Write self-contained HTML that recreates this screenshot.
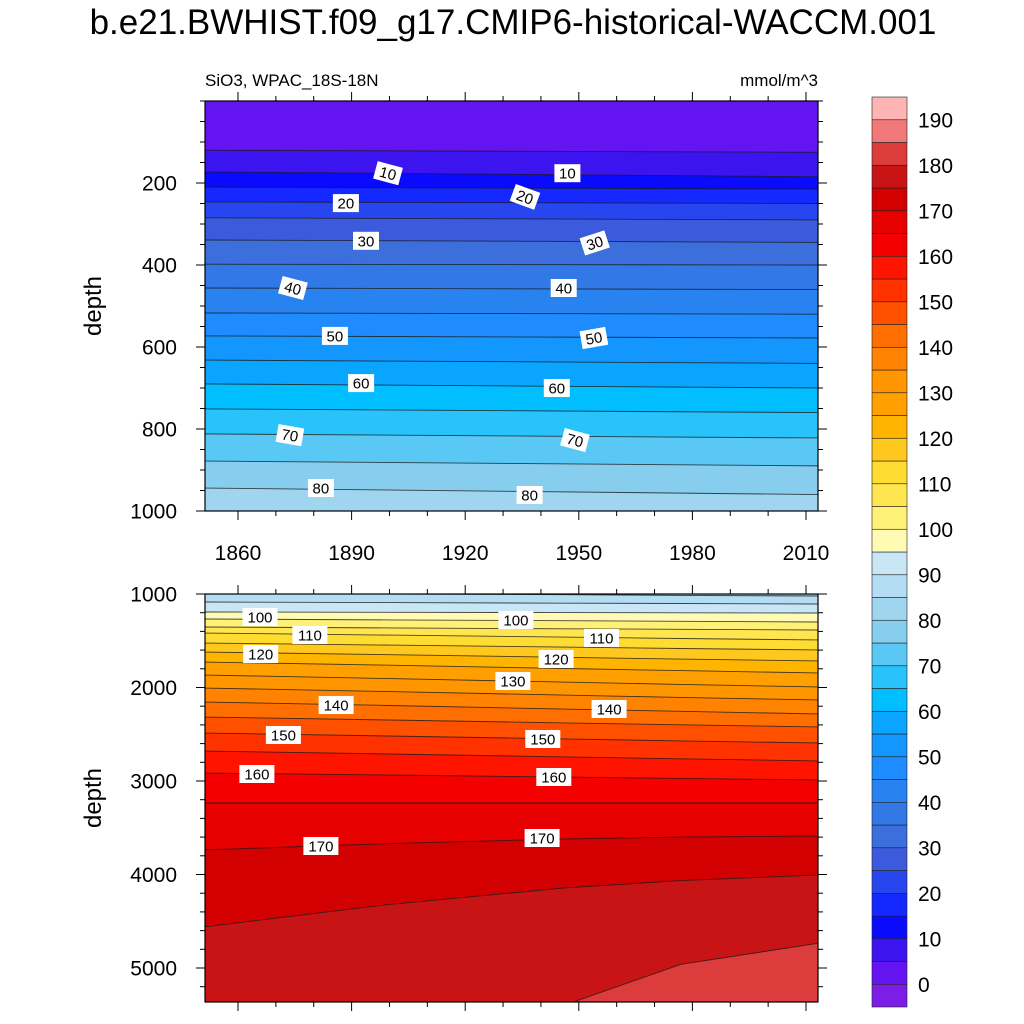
<!DOCTYPE html>
<html><head><meta charset="utf-8"><style>
html,body{margin:0;padding:0;background:#fff;width:1024px;height:1024px;overflow:hidden}
svg{display:block;font-family:"Liberation Sans",Arial,sans-serif}
</style></head><body>
<svg id="chart" width="1024" height="1024" viewBox="0 0 1024 1024">
<defs>
<clipPath id="clipTop"><rect x="205" y="101" width="613" height="410"/></clipPath>
<clipPath id="clipBot"><rect x="205" y="594" width="613" height="408"/></clipPath>
</defs>
<text x="513" y="34" font-size="35" text-anchor="middle">b.e21.BWHIST.f09_g17.CMIP6-historical-WACCM.001</text>
<text x="205" y="86" font-size="17">SiO3, WPAC_18S-18N</text>
<text x="818" y="86" font-size="17" text-anchor="end">mmol/m^3</text>
<g id="topPanel"></g>
<g id="botPanel"></g>
<g id="colorbar"></g>
</svg>
<script>
// colour table: index 0 = below 0, index k = 5(k-1)..5k
const bandColors = ["#7C1EE8","#6414F0","#3C14F0","#0A0AFF","#1428FF","#2846F0","#3C5ADC","#3C6EDC","#3278E6","#2882F0",
"#1E8CFF","#1496FF","#0AA5FF","#00BEFF","#28C3FA","#5AC8F5","#87CDEE","#A0D5F0","#B4DCF2","#C8E6F5",
"#FFFAB4","#FFF078","#FFE650","#FFDC32","#FFC81E","#FFB400","#FFA000","#FF9600","#FF8200","#FF6E00",
"#FF5000","#FF3200","#FF1400","#F50000","#E60000","#D20000","#C81414","#DC3C3C","#F07878","#FFB4B4"];
const colorbarLabels = [0,10,20,30,40,50,60,70,80,90,100,110,120,130,140,150,160,170,180,190];

// upper panel contours (depth in m at first and last year)
const topYears = [1851, 2013];
const topLevels = [5,10,15,20,25,30,35,40,45,50,55,60,65,70,75,80];
const topDepthStart = [120,173,210,246,285,339,398,456,517,573,632,690,751,812,878,944];
const topDepthEnd = [125,185,215,250,290,345,400,460,520,578,640,700,760,822,890,960];
const topLabelLevels = [10,10,20,20,30,30,40,40,50,50,60,60,70,70,80,80];
const topLabelYears = [1899.6,1947,1888.5,1935.8,1893.8,1954.2,1874.5,1946,1885.6,1954,1892.5,1944.2,1873.7,1949,1881.9,1937];
const topLabelDepths = [176,176,249,234,341,346,456,456,573,578,688,700,815,827,944,961];
const topLabelAngles = [15,0,0,20,0,-18,15,0,0,-10,0,0,10,15,0,0];

// lower panel contours
const botYears = [1851,1900,1946,1977,2013];
const botLevels = [85,90,95,100,105,110,115,120,125,130,135,140,145,150,155,160,165,170,175,180];
const botDepths = [
[990,1000,1008,1015,1021],[1086,1092,1098,1102,1107],[1193,1196,1199,1201,1203],[1267,1277,1286,1292,1299],
[1353,1363,1372,1378,1385],[1417,1440,1461,1476,1492],[1524,1547,1568,1583,1599],[1620,1649,1677,1696,1717],
[1727,1762,1797,1819,1845],[1866,1905,1942,1967,1995],[2005,2044,2081,2106,2134],[2155,2193,2231,2255,2283],
[2316,2348,2379,2399,2422],[2487,2519,2550,2571,2594],[2679,2711,2742,2763,2786],[2914,2936,2958,2972,2989],
[3235,3235,3235,3235,3235],[3738,3670,3620,3600,3588],[4561,4320,4144,4065,4005],[5900,5700,5400,4960,4733]];
const botLabelLevels = [100,100,110,110,120,120,130,140,140,150,150,160,160,170,170];
const botLabelYears = [1865.8,1933.4,1879,1956,1866,1944,1932.6,1885.9,1958,1872,1940.5,1865,1943.4,1881.9,1940.3];
const botLabelDepths = [1246,1278,1439,1471,1642,1695,1930,2187,2230,2508,2551,2925,2957,3695,3610];

const xTicksMajor = [1860,1890,1920,1950,1980,2010];
const topYTicks = [200,400,600,800,1000];
const botYTicks = [1000,2000,3000,4000,5000];

const NS="http://www.w3.org/2000/svg";
const X0=205,X1=818;
function xS(y){return 238+(y-1860)*3.7867;}
function yTop(d){return 101+d*0.41;}
function yBot(d){return 594+(d-1000)*0.0935;}
function mk(tag,attrs,parent){const e=document.createElementNS(NS,tag);for(const k in attrs)e.setAttribute(k,attrs[k]);parent.appendChild(e);return e;}
function colorFor(level){return bandColors[level/5+1];}

function drawContours(g,clip,years,levels,depthRows,yf,baseColor,topY,bottomY){
  const cg=mk("g",{"clip-path":"url(#"+clip+")"},g);
  const bg=mk("rect",{x:X0,y:topY,width:X1-X0,height:bottomY-topY,fill:baseColor},cg);
  
  
  levels.forEach((L,i)=>{
    const pts=years.map((yr,j)=>{let x=xS(yr);if(j===0)x=X0-2;if(j===years.length-1)x=X1+2;return [x,yf(depthRows[i][j])];});
    const poly=pts.map(p=>p[0].toFixed(1)+","+p[1].toFixed(1)).join(" ")+" "+(X1+2)+","+bottomY+" "+(X0-2)+","+bottomY;
    const f=mk("polygon",{points:poly,fill:colorFor(L)},cg);
    
    
  });
  levels.forEach((L,i)=>{
    const pts=years.map((yr,j)=>{let x=xS(yr);if(j===0)x=X0-2;if(j===years.length-1)x=X1+2;return x.toFixed(1)+","+yf(depthRows[i][j]).toFixed(1);}).join(" ");
    const l=mk("polyline",{points:pts,fill:"none",stroke:"#1a1a1a","stroke-width":0.9,"stroke-opacity":0.8},cg);
    
    
  });
}
function drawLabels(g,levels,years,depths,angles,yf){
  levels.forEach((L,i)=>{
    const x=xS(years[i]),y=yf(depths[i]);
    const a=angles?angles[i]:0;
    const lg=mk("g",{transform:"translate("+x.toFixed(1)+","+y.toFixed(1)+") rotate("+a+")"},g);
    
    
    const w=String(L).length*9+8;
    mk("rect",{x:-w/2,y:-9,width:w,height:18,fill:"#fff"},lg);
    const t=mk("text",{x:0,y:5.5,"font-size":15,"text-anchor":"middle"},lg);
    t.textContent=L;
  });
}
function drawFrame(g,top,bottom,yTicks,yf,minorStep,yMin,yMax,showX){
  mk("rect",{x:X0,y:top,width:X1-X0,height:bottom-top,fill:"none",stroke:"#000","stroke-width":1.2},g);
  for(let yr=1860;yr<=2010;yr+=10){
    const x=xS(yr),len=(yr-1860)%30===0?9:5;
    mk("line",{x1:x,y1:top,x2:x,y2:top-len,stroke:"#000","stroke-width":1},g);
    mk("line",{x1:x,y1:bottom,x2:x,y2:bottom+len,stroke:"#000","stroke-width":1},g);
  }
  if(showX){xTicksMajor.forEach(yr=>{const t=mk("text",{x:xS(yr),y:bottom+49,"font-size":21,"text-anchor":"middle"},g);t.textContent=yr;});}
  for(let d=yMin;d<=yMax;d+=minorStep){
    const y=yf(d);if(y<top-0.5||y>bottom+0.5)continue;
    const len=yTicks.includes(d)?9:5;
    mk("line",{x1:X0,y1:y,x2:X0-len,y2:y,stroke:"#000","stroke-width":1},g);
    mk("line",{x1:X1,y1:y,x2:X1+len,y2:y,stroke:"#000","stroke-width":1},g);
  }
  yTicks.forEach(d=>{const t=mk("text",{x:177,y:yf(d)+7.5,"font-size":21,"text-anchor":"end"},g);t.textContent=d;});
  const ty=(top+bottom)/2;
  const t=mk("text",{x:101,y:ty,"font-size":24,"text-anchor":"middle",transform:"rotate(-90 101 "+ty+")"},g);
  t.textContent="depth";
  
  
}
const topG=document.getElementById("topPanel");
drawContours(topG,"clipTop",topYears,topLevels,topLevels.map((_,i)=>[topDepthStart[i],topDepthEnd[i]]),yTop,colorFor(0),101,511);
drawLabels(topG,topLabelLevels,topLabelYears,topLabelDepths,topLabelAngles,yTop);
drawFrame(topG,101,511,topYTicks,yTop,50,0,1000,true);

const botG=document.getElementById("botPanel");
drawContours(botG,"clipBot",botYears,botLevels,botDepths,yBot,colorFor(80),594,1002);
drawLabels(botG,botLabelLevels,botLabelYears,botLabelDepths,null,yBot);
drawFrame(botG,594,1002,botYTicks,yBot,200,1000,5400,false);

// colorbar
const cb=document.getElementById("colorbar");
const cbTop=97,cbH=22.75,cbX=872,cbW=35;
for(let k=0;k<bandColors.length;k++){
  const r=mk("rect",{x:cbX,y:cbTop+(bandColors.length-1-k)*cbH,width:cbW,height:cbH,fill:bandColors[k],stroke:"#222","stroke-width":0.6},cb);
  
  
}
colorbarLabels.forEach(v=>{
  const y=cbTop+(39-v/5)*cbH;
  const t=mk("text",{x:918,y:y+7.5,"font-size":21},cb);
  t.textContent=v;
  
  
});
</script>
</body></html>
